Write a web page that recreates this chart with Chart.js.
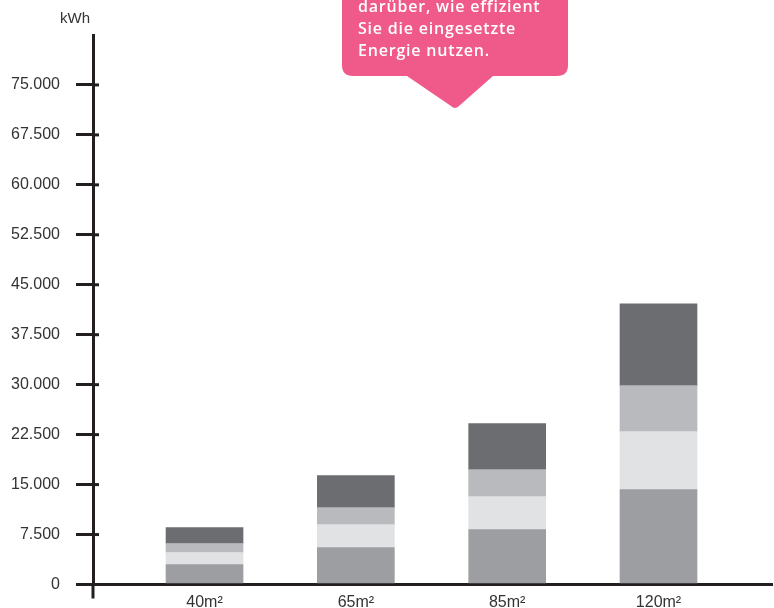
<!DOCTYPE html>
<html>
<head>
<meta charset="utf-8">
<script src="https://cdn.jsdelivr.net/npm/chart.js@4.4.1/dist/chart.umd.min.js"></script>
<style>
  html, body { margin: 0; padding: 0; background: #ffffff; }
  #wrap { width: 774px; height: 608px; position: relative; }
</style>
</head>
<body>
<div id="wrap"><canvas id="c" width="774" height="608"></canvas></div>
<script>
// ---- Data ----
const categories = ['40m²', '65m²', '85m²', '120m²'];
const seriesBase   = [3000, 5550, 8250, 14250];   // bottom segment
const seriesLight  = [1800, 3450, 4950, 8700];    // lightest segment
const seriesMid    = [1350, 2550, 4050, 6900];    // light gray segment
const seriesDark   = [2400, 4800, 6900, 12300];   // top dark segment
const yTickMax = 75000;
const yTickStep = 7500;
const unitLabel = 'kWh';
const calloutLines = ['darüber, wie effizient', 'Sie die eingesetzte', 'Energie nutzen.'];

const AXIS = '#231f20';
const TEXT = '#333333';

function toPoints(arr) { return arr.map((v, i) => ({ x: i, y: v })); }

function fmt(v) {
  return v.toLocaleString('de-DE');
}

const extrasPlugin = {
  id: 'extras',
  afterDraw(chart) {
    const ctx = chart.ctx;
    const y = chart.scales.y;
    const area = chart.chartArea;
    ctx.save();
    // extend y axis below the x axis and tick stubs right of the axis
    ctx.strokeStyle = AXIS;
    ctx.lineWidth = 3;
    ctx.beginPath();
    ctx.moveTo(area.left, area.bottom);
    ctx.lineTo(area.left, area.bottom + 14);
    ctx.stroke();
    y.ticks.forEach(t => {
      const py = y.getPixelForValue(t.value);
      ctx.beginPath();
      ctx.moveTo(area.left, py);
      ctx.lineTo(area.left + 6, py);
      ctx.stroke();
    });
    // unit label
    ctx.fillStyle = TEXT;
    ctx.font = '15px "Liberation Sans", Arial, sans-serif';
    ctx.textAlign = 'center';
    ctx.textBaseline = 'alphabetic';
    ctx.fillText(unitLabel, area.left - 18, 23);

    // callout bubble
    ctx.fillStyle = '#f05a8a';
    const bx1 = 342, bx2 = 568, by1 = -30, by2 = 76, r = 11;
    ctx.beginPath();
    ctx.moveTo(bx1, by1);
    ctx.lineTo(bx2, by1);
    ctx.lineTo(bx2, by2 - r);
    ctx.quadraticCurveTo(bx2, by2, bx2 - r, by2);
    ctx.lineTo(493, by2);
    ctx.lineTo(459, 106);
    ctx.quadraticCurveTo(455, 110, 451, 106);
    ctx.lineTo(407, by2);
    ctx.lineTo(bx1 + r, by2);
    ctx.quadraticCurveTo(bx1, by2, bx1, by2 - r);
    ctx.closePath();
    ctx.fill();
    ctx.fillStyle = '#ffffff';
    ctx.font = '600 16px "Open Sans", sans-serif';
    try { ctx.letterSpacing = '0.8px'; } catch (e) {}
    ctx.textAlign = 'left';
    calloutLines.forEach((l, i) => ctx.fillText(l, 358, 12 + i * 22));
    ctx.restore();
  }
};

new Chart(document.getElementById('c'), {
  type: 'bar',
  data: {
    datasets: [
      { label: 'a', data: toPoints(seriesBase),  backgroundColor: '#9d9ea1' },
      { label: 'b', data: toPoints(seriesLight), backgroundColor: '#e1e2e3' },
      { label: 'c', data: toPoints(seriesMid),   backgroundColor: '#b9babd' },
      { label: 'd', data: toPoints(seriesDark),  backgroundColor: '#6c6d70' }
    ]
  },
  options: {
    responsive: false,
    animation: false,
    devicePixelRatio: 1,
    layout: { autoPadding: false, padding: { top: 35, right: 2, left: 0, bottom: 0 } },
    datasets: { bar: { barThickness: 77, borderWidth: 0 } },
    plugins: { legend: { display: false }, tooltip: { enabled: false } },
    scales: {
      x: {
        type: 'linear',
        stacked: true,
        offset: false,
        min: -0.737,
        max: 3.75,
        afterBuildTicks(s) { s.ticks = categories.map((c, i) => ({ value: i })); },
        afterFit(s) { s.height = 23.5; s.paddingLeft = 0; s.paddingRight = 0; },
        grid: { display: false, drawTicks: false, offset: false },
        border: { display: true, color: AXIS, width: 3 },
        ticks: {
          padding: 8,
          color: TEXT,
          font: { family: '"Liberation Sans", Arial, sans-serif', size: 16 },
          callback: v => categories[v]
        }
      },
      y: {
        stacked: true,
        min: 0,
        max: 82500,
        afterBuildTicks(s) {
          const t = [];
          for (let v = 0; v <= yTickMax; v += yTickStep) t.push({ value: v });
          s.ticks = t;
        },
        afterFit(s) { s.width = 93; s.paddingTop = 0; s.paddingBottom = 0; },
        grid: { display: true, drawOnChartArea: false, drawTicks: true, tickLength: 17, lineWidth: 3, color: AXIS },
        border: { display: true, color: AXIS, width: 3 },
        ticks: {
          padding: 16,
          color: TEXT,
          font: { family: '"Liberation Sans", Arial, sans-serif', size: 16 },
          callback: v => fmt(v)
        }
      }
    }
  },
  plugins: [extrasPlugin]
});
</script>
</body>
</html>
